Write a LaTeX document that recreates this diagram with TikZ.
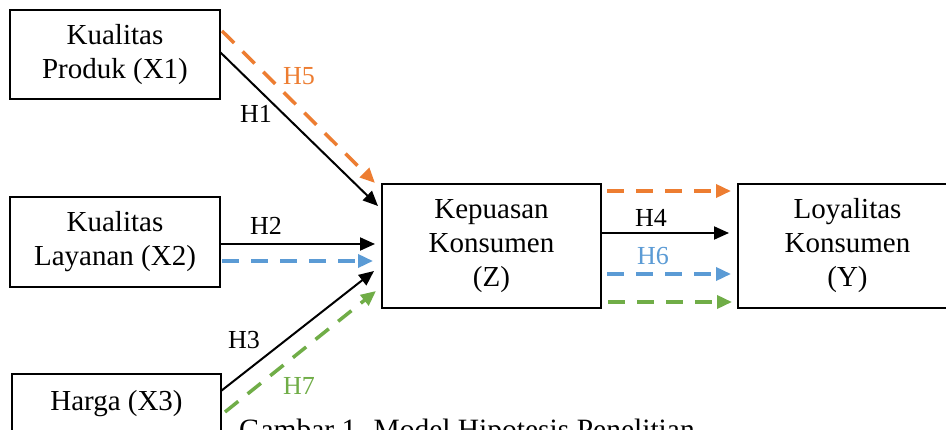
\documentclass[tikz,border=0pt]{standalone}
\usepackage{fontspec}
\setmainfont{Liberation Serif}
\usetikzlibrary{arrows.meta}
\definecolor{horange}{HTML}{ED7D31}
\definecolor{hblue}{HTML}{5B9BD5}
\definecolor{hgreen}{HTML}{70AD47}
\begin{document}
\begin{tikzpicture}[x=1pt,y=-1pt,
 box/.style={draw,line width=2pt,align=center,inner sep=0pt,font=\fontsize{29}{34}\selectfont},
 hyp/.style={-{Triangle[length=15pt,width=13pt]},line width=2pt},
 dhyp/.style={-{Triangle[length=15pt,width=13pt]},line width=3.5pt,dash pattern=on 17pt off 12pt},
 lbl/.style={font=\fontsize{26}{30}\selectfont,inner sep=0pt,anchor=base west}]
\useasboundingbox (0,0) rectangle (946,430);
\clip (0,0) rectangle (946,430);
\fill[white] (0,0) rectangle (946,430);
% boxes
\node[box,minimum width=210pt,minimum height=89pt] (x1) at (115,55) {Kualitas\\Produk (X1)};
\node[box,minimum width=210pt,minimum height=90pt] (x2) at (115,242) {Kualitas\\Layanan (X2)};
\node[box,minimum width=209pt,minimum height=60pt] (x3) at (116.5,404) {Harga (X3)};
\node[box,minimum width=219pt,minimum height=124pt] (z) at (491.5,246) {Kepuasan\\Konsumen\\(Z)};
\node[box,minimum width=219pt,minimum height=124pt] (y) at (847.5,246) {Loyalitas\\Konsumen\\(Y)};
% connector end points
\coordinate (h1s) at (220,52);  \coordinate (h1e) at (378,206);
\coordinate (h5s) at (222,31);  \coordinate (h5e) at (375,183);
\coordinate (h2s) at (221,244); \coordinate (h2e) at (375,244);
\coordinate (h6s) at (222,261); \coordinate (h6e) at (373,261);
\coordinate (h3s) at (221,391); \coordinate (h3e) at (374,271);
\coordinate (h7s) at (225,412); \coordinate (h7e) at (376,291);
\coordinate (zo) at (607,191);  \coordinate (yo) at (731,191);
\coordinate (zk) at (602,233);  \coordinate (yk) at (729,233);
\coordinate (zb) at (607,274);  \coordinate (yb) at (731,274);
\coordinate (zg) at (608,302);  \coordinate (yg) at (732,302);
% connectors
\draw[dhyp,horange] (h5s) -- (h5e);
\draw[hyp] (h1s) -- (h1e);
\draw[hyp] (h2s) -- (h2e);
\draw[dhyp,hblue] (h6s) -- (h6e);
\draw[hyp] (h3s) -- (h3e);
\draw[dhyp,hgreen] (h7s) -- (h7e);
\draw[dhyp,horange] (zo) -- (yo);
\draw[hyp] (zk) -- (yk);
\draw[dhyp,hblue] (zb) -- (yb);
\draw[dhyp,hgreen] (zg) -- (yg);
% labels
\node[lbl,text=horange] (l5) at (283,85) {H5};
\node[lbl] (l1) at (240,123) {H1};
\node[lbl] (l2) at (250,235) {H2};
\node[lbl] (l3) at (228,349) {H3};
\node[lbl,text=hgreen] (l7) at (283,395) {H7};
\node[lbl] (l4) at (635,227) {H4};
\node[lbl,text=hblue] (l6) at (637,265) {H6};
% caption (cut off by the lower edge, as in the reference)
\node[inner sep=0pt,anchor=base west,font=\fontsize{29.5}{34}\selectfont] (cap) at (239,440) {Gambar 1. Model Hipotesis Penelitian};
\end{tikzpicture}
\end{document}
